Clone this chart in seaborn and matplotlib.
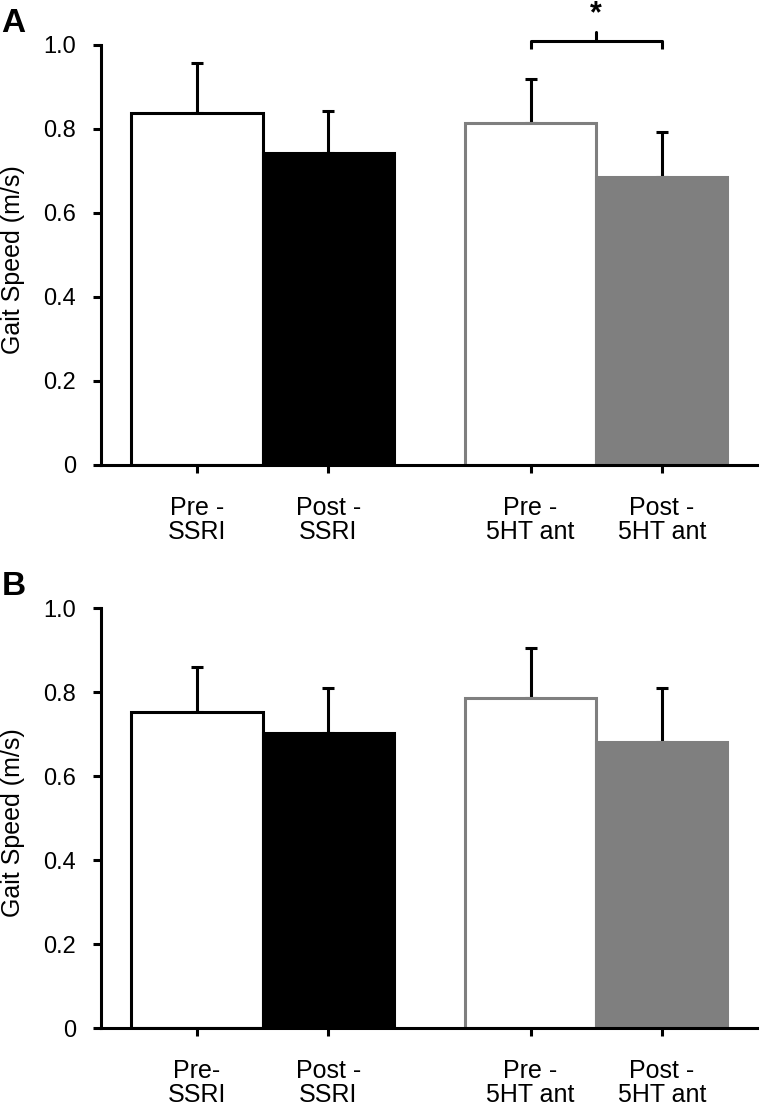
import numpy as np
import pandas as pd
import matplotlib
matplotlib.use("Agg")
import matplotlib.pyplot as plt
import seaborn as sns

# Data
conditions = ["Pre - SSRI", "Post - SSRI", "Pre - 5HT ant", "Post - 5HT ant"]
positions = [0.0, 1.0, 2.54, 3.54]
labels_a = ["Pre -\nSSRI", "Post -\nSSRI", "Pre -\n5HT ant", "Post -\n5HT ant"]
labels_b = ["Pre-\nSSRI", "Post -\nSSRI", "Pre -\n5HT ant", "Post -\n5HT ant"]

speed_a = [0.838, 0.743, 0.815, 0.686]
err_a = [0.119, 0.100, 0.103, 0.107]
speed_b = [0.752, 0.702, 0.786, 0.681]
err_b = [0.108, 0.108, 0.119, 0.128]

face_colors = ["white", "black", "white", "#7f7f7f"]
edge_colors = ["black", "black", "#7f7f7f", "#7f7f7f"]

sns.set_theme(style="ticks", rc={
    "text.color": "black", "axes.labelcolor": "black",
    "xtick.color": "black", "ytick.color": "black",
    "axes.edgecolor": "black",
})
plt.rcParams["font.family"] = ["Liberation Sans", "DejaVu Sans"]

LW = 2.2


def draw_panel(ax, values, errors, tick_labels, letter, sig=False):
    df = pd.DataFrame({"pos": positions, "speed": values, "cond": conditions})
    sns.barplot(data=df, x="pos", y="speed", native_scale=True, width=1.0,
                errorbar=None, color="white", ax=ax)
    for patch, fc, ec in zip(ax.patches, face_colors, edge_colors):
        patch.set_facecolor(fc)
        patch.set_edgecolor(ec)
        patch.set_linewidth(LW)
        patch.set_zorder(2)

    # upper-only error bars
    ax.errorbar(positions, values, yerr=[np.zeros(len(errors)), errors],
                fmt="none", ecolor="black", elinewidth=LW, capsize=4.3,
                capthick=LW, zorder=1)

    ax.set_xlim(-0.731, 4.265)
    ax.set_ylim(0, 1.1)
    ax.set_yticks([0, 0.2, 0.4, 0.6, 0.8, 1.0])
    ax.set_yticklabels(["0", "0.2", "0.4", "0.6", "0.8", "1.0"])
    ax.set_xticks(positions)
    ax.set_xticklabels(tick_labels, linespacing=1.0)
    ax.tick_params(axis="y", labelsize=17, width=LW, length=6, pad=12)
    ax.tick_params(axis="x", labelsize=18, width=LW, length=6, pad=16)
    ax.set_xlabel("")
    ax.set_ylabel("Gait Speed (m/s)", fontsize=18)
    ax.yaxis.set_label_coords(-0.116, 0.444)

    sns.despine(ax=ax)
    ax.spines["left"].set_bounds(0, 1.0)
    ax.spines["left"].set_linewidth(LW)
    ax.spines["bottom"].set_linewidth(LW)

    ax.text(-0.152, 0.955, letter, transform=ax.transAxes, fontsize=24,
            fontweight="bold", ha="left", va="center")

    if sig:
        x0, x1 = positions[2], positions[3]
        ax.plot([x0, x0, x1, x1], [0.99, 1.01, 1.01, 0.99], color="black",
                lw=LW, solid_capstyle="butt", clip_on=False)
        ax.plot([(x0 + x1) / 2] * 2, [1.01, 1.03], color="black", lw=LW,
                clip_on=False)
        ax.text((x0 + x1) / 2, 1.072, "*", ha="center", va="center",
                fontsize=22, fontweight="bold")


fig = plt.figure(figsize=(7.6, 11.06), dpi=100)
ax_a = fig.add_axes([0.1329, 0.5796, 0.8632, 0.4177])
ax_b = fig.add_axes([0.1329, 0.0705, 0.8632, 0.4177])

draw_panel(ax_a, speed_a, err_a, labels_a, "A", sig=True)
draw_panel(ax_b, speed_b, err_b, labels_b, "B")

fig.savefig("out.png", dpi=100, facecolor="white")
